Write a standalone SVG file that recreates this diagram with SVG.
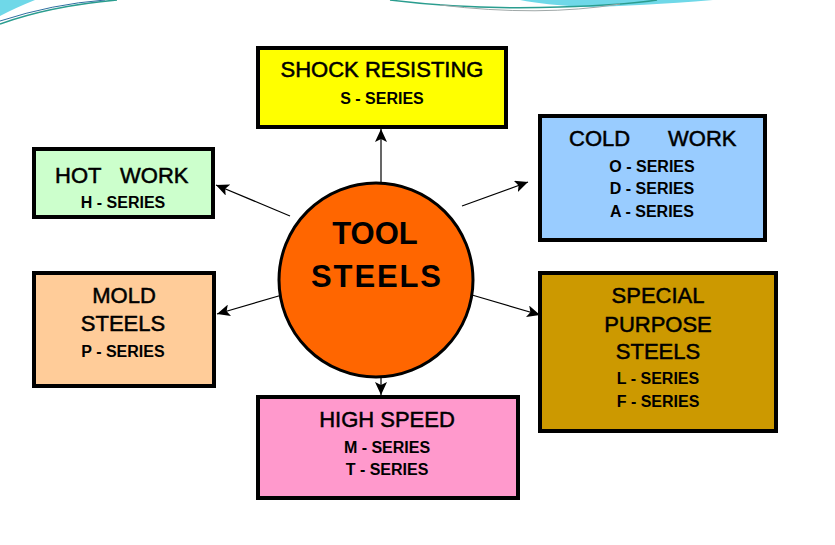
<svg xmlns="http://www.w3.org/2000/svg" width="835" height="545" viewBox="0 0 835 545">
<style>
.box{stroke:#000;stroke-width:4}
.t{font-family:"Liberation Sans",Arial,sans-serif;font-size:22px;fill:#000;stroke:#000;stroke-width:0.5;text-anchor:middle}
.s{font-family:"Liberation Sans",Arial,sans-serif;font-size:16px;font-weight:bold;fill:#000;text-anchor:middle}
.c{font-family:"Liberation Sans",Arial,sans-serif;font-size:31px;font-weight:bold;fill:#000;text-anchor:middle}
.con{stroke:#000;stroke-width:1.2;fill:none;marker-end:url(#ah)}
</style>
<defs>
<marker id="ah" markerUnits="userSpaceOnUse" markerWidth="14" markerHeight="12" refX="13" refY="6" orient="auto">
<path d="M0,0 L13,6 L0,12 L3,6 Z" fill="#000"/>
</marker>
</defs>
<rect width="835" height="545" fill="#fff"/>
<g id="decoration">
<path d="M0,0 L35,0 Q15,8 0,16 Z" fill="#6fd8e8"/>
<path d="M0,24 Q50,6 117,0" stroke="#2a9d8f" stroke-width="1.5" fill="none"/>
<path d="M0,21 Q52,4 105,0" stroke="#2f6fa0" stroke-width="1" fill="none"/>
<path d="M520,0 L713,0 Q640,6 585,7 Q545,5 520,0 Z" fill="#6fd8e8"/>
<path d="M390,0 Q470,10 560,7 Q625,5 657,0" stroke="#2a9d8f" stroke-width="1.5" fill="none"/>
<path d="M440,5 Q540,17 620,4" stroke="#a0a8a8" stroke-width="1" fill="none"/>
</g>
<g id="connectors">
<path class="con" d="M381,183 L381,129"/>
<path class="con" d="M381,377 L381,395"/>
<path class="con" d="M290,216 L216,185"/>
<path class="con" d="M462,206 L528,182"/>
<path class="con" d="M282,295 L217,314"/>
<path class="con" d="M472,295 L540,315"/>
</g>
<g id="shock">
<rect class="box" x="258" y="48" width="248" height="79" fill="#ffff00"/>
<text class="t" x="382" y="77">SHOCK RESISTING</text>
<text class="s" x="382" y="104">S - SERIES</text>
</g>
<g id="cold">
<rect class="box" x="540" y="116" width="225" height="124" fill="#99ccff"/>
<text class="t" x="569" y="146" style="text-anchor:start">COLD<tspan x="668">WORK</tspan></text>
<text class="s" x="652" y="172">O - SERIES</text>
<text class="s" x="652" y="194">D - SERIES</text>
<text class="s" x="652" y="217">A - SERIES</text>
</g>
<g id="hot">
<rect class="box" x="34" y="149" width="179" height="68" fill="#ccffcc"/>
<text class="t" x="55" y="183" style="text-anchor:start">HOT<tspan x="120">WORK</tspan></text>
<text class="s" x="123" y="208">H - SERIES</text>
</g>
<g id="mold">
<rect class="box" x="34" y="273" width="180" height="113" fill="#ffcc99"/>
<text class="t" x="124" y="303">MOLD</text>
<text class="t" x="123" y="331">STEELS</text>
<text class="s" x="123" y="357">P - SERIES</text>
</g>
<g id="special">
<rect class="box" x="540" y="273" width="236" height="158" fill="#cc9900"/>
<text class="t" x="658" y="303">SPECIAL</text>
<text class="t" x="658" y="332">PURPOSE</text>
<text class="t" x="658" y="359">STEELS</text>
<text class="s" x="658" y="384">L - SERIES</text>
<text class="s" x="658" y="407">F - SERIES</text>
</g>
<g id="high">
<rect class="box" x="258" y="397" width="260" height="101" fill="#ff99cc"/>
<text class="t" x="387" y="427">HIGH SPEED</text>
<text class="s" x="387" y="453">M - SERIES</text>
<text class="s" x="387" y="475">T - SERIES</text>
</g>
<g id="center">
<circle cx="376" cy="280" r="97" fill="#ff6600" stroke="#000" stroke-width="3"/>
<text class="c" x="375" y="244">TOOL</text>
<text class="c" x="376" y="287" textLength="130">STEELS</text>
</g>
</svg>
